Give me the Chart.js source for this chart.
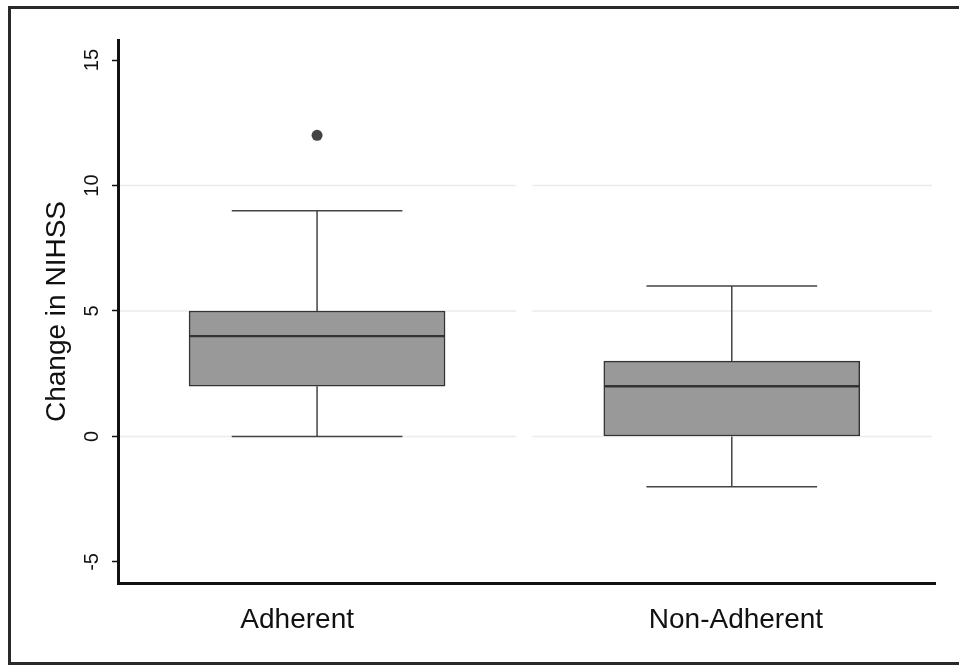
<!DOCTYPE html>
<html><head><meta charset="utf-8">
<script src="https://cdn.jsdelivr.net/npm/chart.js@4.4.1/dist/chart.umd.min.js"></script>
<style>html,body{margin:0;padding:0;background:#fff;overflow:hidden}</style>
</head><body>
<canvas id="c" width="959" height="665"></canvas>
<script>
// ---- data ----
const categories = ['Adherent', 'Non-Adherent'];
const whiskerLow = [0, -2];
const q1 = [2, 0];
const median = [4, 2];
const q3 = [5, 3];
const whiskerHigh = [9, 6];
const outliers = [[12], []];
const yTickValues = [-5, 0, 5, 10, 15];
const gridValues = [0, 5, 10];
const yAxisTitle = 'Change in NIHSS';

// ---- styling / layout (not data) ----
const FONT = '"Liberation Sans", Arial, Helvetica, sans-serif';
const labelShift = [-0.048, 0.01];

const lowerHalf = categories.map((c, i) => ({x: i + 1, y: [q1[i], median[i]]}));
const upperHalf = categories.map((c, i) => ({x: i + 1, y: [median[i], q3[i]]}));
const outlierPts = [];
outliers.forEach((arr, i) => arr.forEach(v => outlierPts.push({x: i + 1, y: v})));

const extras = {
  id: 'extras',
  beforeDraw(chart) {
    const {ctx, width} = chart;
    ctx.save();
    ctx.fillStyle = '#fff';
    ctx.fillRect(0, 0, chart.width, chart.height);
    ctx.strokeStyle = '#2a2a2a';
    ctx.lineWidth = 3;
    ctx.beginPath();
    ctx.moveTo(width, 7.5); ctx.lineTo(9.5, 7.5); ctx.lineTo(9.5, 663.5); ctx.lineTo(width, 663.5);
    ctx.stroke();
    ctx.restore();
  },
  beforeDatasetsDraw(chart) {
    const {ctx, chartArea} = chart;
    const xs = chart.scales.x, ys = chart.scales.y;
    const mid = xs.getPixelForValue(1.5);
    ctx.save();
    ctx.strokeStyle = '#ececec';
    ctx.lineWidth = 1.5;
    gridValues.forEach(v => {
      const y = ys.getPixelForValue(v);
      ctx.beginPath();
      ctx.moveTo(chartArea.left + 2, y); ctx.lineTo(mid - 8, y);
      ctx.moveTo(mid + 8, y); ctx.lineTo(chartArea.right - 3, y);
      ctx.stroke();
    });
    ctx.restore();
  },
  afterDatasetsDraw(chart) {
    const {ctx} = chart;
    const xs = chart.scales.x, ys = chart.scales.y;
    const meta = chart.getDatasetMeta(0);
    ctx.save();
    ctx.strokeStyle = '#444';
    ctx.lineWidth = 1.5;
    categories.forEach((c, i) => {
      const el = meta.data[i];
      const xc = xs.getPixelForValue(i + 1);
      const half = el.width / 3;
      const yLo = ys.getPixelForValue(whiskerLow[i]);
      const yHi = ys.getPixelForValue(whiskerHigh[i]);
      const yQ1 = ys.getPixelForValue(q1[i]);
      const yQ3 = ys.getPixelForValue(q3[i]);
      ctx.beginPath();
      ctx.moveTo(xc, yQ3); ctx.lineTo(xc, yHi);
      ctx.moveTo(xc, yQ1); ctx.lineTo(xc, yLo);
      ctx.moveTo(xc - half, yHi); ctx.lineTo(xc + half, yHi);
      ctx.moveTo(xc - half, yLo); ctx.lineTo(xc + half, yLo);
      ctx.stroke();
    });
    ctx.restore();
  }
};

const boxStyle = {
  backgroundColor: '#999999',
  borderColor: '#333333',
  borderWidth: 1.5,
  borderSkipped: false,
  barThickness: 256,
  grouped: false
};

new Chart(document.getElementById('c'), {
  type: 'bar',
  data: {
    datasets: [
      Object.assign({label: 'Q1-Median', data: lowerHalf}, boxStyle),
      Object.assign({label: 'Median-Q3', data: upperHalf}, boxStyle),
      {type: 'scatter', label: 'Outliers', data: outlierPts, pointRadius: 5.5,
       pointBackgroundColor: '#444', pointBorderWidth: 0, backgroundColor: '#444'}
    ]
  },
  plugins: [extras],
  options: {
    responsive: false,
    animation: false,
    events: [],
    layout: {padding: {left: 40, top: 40, right: 24, bottom: 0}},
    plugins: {legend: {display: false}, tooltip: {enabled: false}},
    scales: {
      x: {
        type: 'linear',
        min: 0.52, max: 2.49,
        offset: false,
        afterBuildTicks: s => { s.ticks = categories.map((c, i) => ({value: i + 1 + labelShift[i]})); },
        afterFit: s => { s.height = 82; },
        ticks: {
          callback: (v, idx) => categories[idx],
          font: {family: FONT, size: 28},
          color: '#111',
          padding: 20,
          minRotation: 0, maxRotation: 0,
          autoSkip: false
        },
        grid: {display: true, offset: false, drawOnChartArea: false, drawTicks: false},
        border: {display: true, color: '#111', width: 3}
      },
      y: {
        type: 'linear',
        min: -5.84, max: 15.8,
        afterBuildTicks: s => { s.ticks = yTickValues.map(v => ({value: v})); },
        afterFit: s => { s.width = 78; },
        ticks: {
          callback: v => String(v),
          font: {family: FONT, size: 20},
          color: '#111',
          padding: 8,
          minRotation: 90, maxRotation: 90,
          crossAlign: 'center'
        },
        grid: {display: true, drawOnChartArea: false, tickLength: 6, tickColor: '#111', tickWidth: 1.5},
        border: {display: true, color: '#111', width: 3},
        title: {display: true, text: yAxisTitle, font: {family: FONT, size: 28}, color: '#111', padding: 0}
      }
    }
  }
});
</script>
</body></html>
